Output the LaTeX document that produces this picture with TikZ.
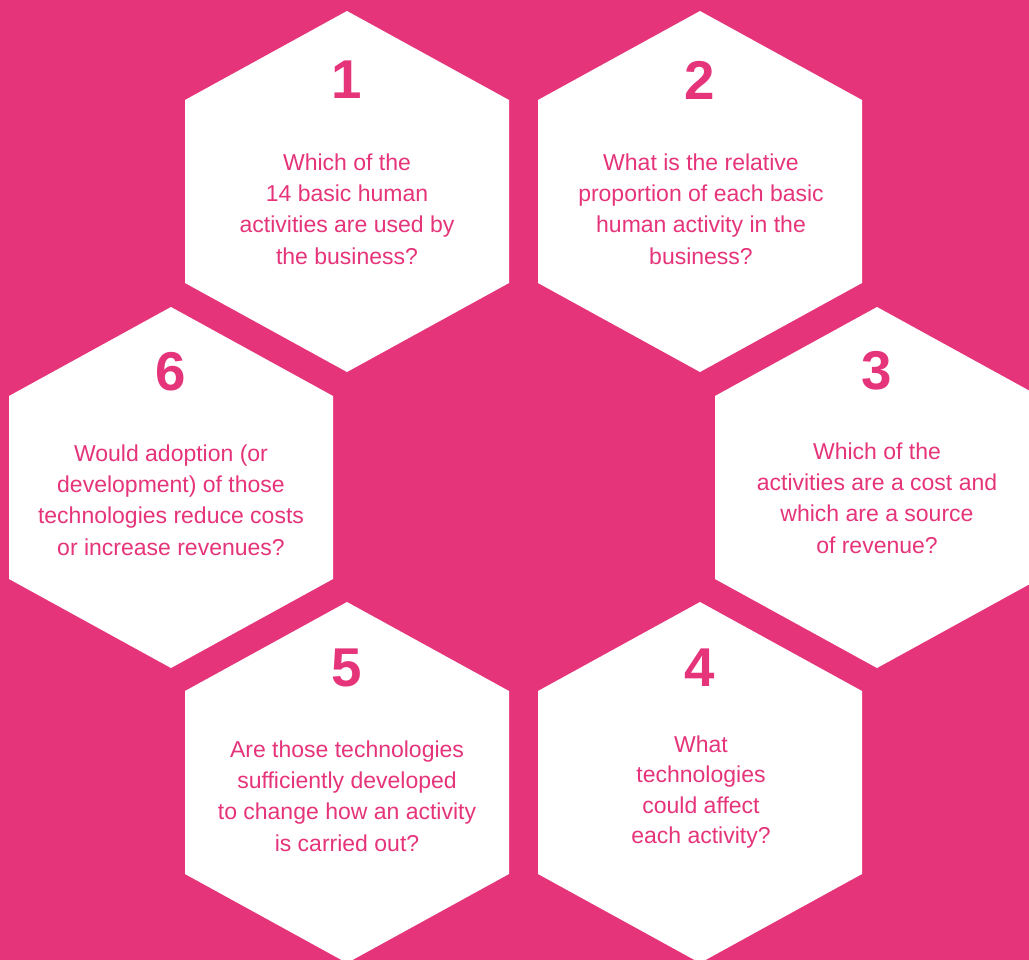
\documentclass[tikz,border=0pt]{standalone}
\usepackage{fontspec}
\setmainfont{Liberation Sans}
\definecolor{hotpink}{RGB}{229,52,122}
\begin{document}
\begin{tikzpicture}[x=0.75pt,y=-0.75pt,
  hexa/.pic={\fill[white] (0,0) -- (162,89) -- (162,272) -- (0,361) -- (-162,272) -- (-162,89) -- cycle;},
  num/.style={text=hotpink,font=\fontsize{41}{41}\selectfont\bfseries,inner sep=0pt},
  qtext/.style={text=hotpink,font=\fontsize{17.25}{23.6}\selectfont,align=center,inner sep=0pt}]
\useasboundingbox (0,0) rectangle (1029,960);
\fill[hotpink] (0,0) rectangle (1029,960);
\clip (0,0) rectangle (1029,960);
% hexagons
\pic at (347,11) {hexa};
\pic at (700,11) {hexa};
\pic at (171,307) {hexa};
\pic at (877,307) {hexa};
\pic at (347,602) {hexa};
\pic at (700,602) {hexa};
% numbers
\node[num] (n1) at (347,80) {1};
\node[num] (n2) at (700,80) {2};
\node[num] (n6) at (171,372) {6};
\node[num] (n3) at (877,371) {3};
\node[num] (n5) at (347,668) {5};
\node[num] (n4) at (700,668) {4};
% questions
\node[qtext] (q1) at (347,209) {Which of the\\14 basic human\\activities are used by\\the business?};
\node[qtext] (q2) at (701,209) {What is the relative\\proportion of each basic\\human activity in the\\business?};
\node[qtext] (q6) at (171,500) {Would adoption (or\\development) of those\\technologies reduce costs\\or increase revenues?};
\node[qtext] (q3) at (877,498) {Which of the\\activities are a cost and\\which are a source\\of revenue?};
\node[qtext] (q5) at (347,796) {Are those technologies\\sufficiently developed\\to change how an activity\\is carried out?};
\node[qtext,font=\fontsize{17.25}{22.9}\selectfont] (q4) at (701,792) {What\\technologies\\could affect\\each activity?};
\end{tikzpicture}
\end{document}
